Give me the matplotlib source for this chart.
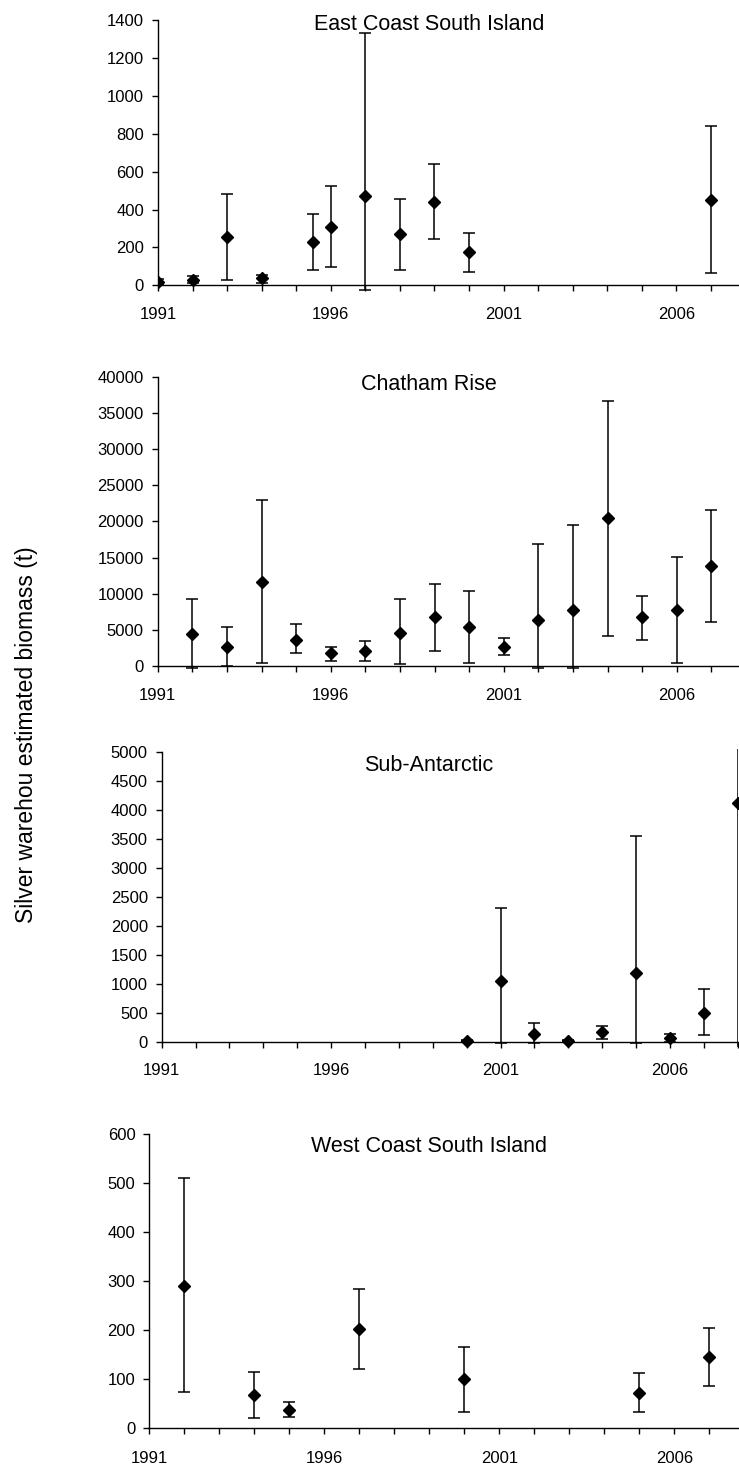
import matplotlib
matplotlib.use("Agg")
import matplotlib.pyplot as plt
import numpy as np

plt.rcParams['font.family'] = ['Liberation Sans', 'DejaVu Sans']

W, H = 739, 1466

# East Coast South Island
ecsi_year = [1991, 1992, 1993, 1994, 1995.5, 1996, 1997, 1998, 1999, 2000, 2007]
ecsi_est = [20, 30, 257, 37, 230, 310, 471, 271, 441, 174, 450]
ecsi_lo = [8, 12, 28, 14, 81, 95, -25, 81, 243, 72, 67]
ecsi_hi = [32, 48, 480, 53, 376, 524, 1329, 457, 640, 278, 839]

# Chatham Rise
cr_year = [1992, 1993, 1994, 1995, 1996, 1997, 1998, 1999, 2000,
           2001, 2002, 2003, 2004, 2005, 2006, 2007]
cr_est = [4424, 2673, 11567, 3594, 1751, 2120, 4608, 6728, 5438,
          2673, 6359, 7742, 20461, 6728, 7696, 13871]
cr_lo = [-323, 0, 369, 1751, 737, 737, 230, 2120, 369,
         1521, -250, -300, 4194, 3594, 369, 6129]
cr_hi = [9309, 5438, 22949, 5760, 2673, 3456, 9309, 11382, 10415,
         3917, 16820, 19539, 36682, 9677, 15069, 21613]

# Sub-Antarctic
sa_year = [2000, 2001, 2002, 2003, 2004, 2005, 2006, 2007, 2008]
sa_est = [17, 1048, 132, 17, 161, 1192, 58, 490, 4119]
sa_lo = [5, -20, -29, 5, 46, -20, 0, 115, -400]
sa_hi = [29, 2304, 317, 29, 276, 3560, 132, 904, 8200]

# West Coast South Island
wcsi_year = [1992, 1994, 1995, 1997, 2000, 2005, 2007]
wcsi_est = [291, 67, 37, 202, 100, 71, 146]
wcsi_lo = [75, 20, 24, 120, 33, 33, 87]
wcsi_hi = [510, 114, 54, 285, 166, 112, 205]

titles = ["East Coast South Island", "Chatham Rise", "Sub-Antarctic",
          "West Coast South Island"]
y_max = [1400, 40000, 5000, 600]
y_step = [200, 5000, 500, 100]
year_labels = [1991, 1996, 2001, 2006]

# panel geometry in pixels: left edge, y pixel of zero, y pixel of max tick,
# x pixel of 2008, lower y limit, upper y limit, title baseline
geom = [
    (158.0, 285.3, 20.0, 745.4, -40, 1400, 30.5),
    (157.7, 666.0, 376.7, 746.0, -700, 40000, 390.0),
    (161.7, 1041.7, 752.3, 737.7, -90, 5050, 771.0),
    (149.3, 1428.3, 1134.0, 744.3, -8, 600, 1152.5),
]
label_pad = [11, 11, 11, 12]

series = [
    (ecsi_year, ecsi_est, ecsi_lo, ecsi_hi),
    (cr_year, cr_est, cr_lo, cr_hi),
    (sa_year, sa_est, sa_lo, sa_hi),
    (wcsi_year, wcsi_est, wcsi_lo, wcsi_hi),
]

fig = plt.figure(figsize=(W / 100, H / 100), dpi=100)

for i in range(4):
    left, zero_px, top_px, x2008, ylo, yhi, title_base = geom[i]
    ppu = (zero_px - top_px) / y_max[i]
    bottom_px = zero_px - ylo * ppu
    axtop_px = zero_px - yhi * ppu
    ax = fig.add_axes([left / W, 1 - bottom_px / H,
                       (x2008 - left) / W, (bottom_px - axtop_px) / H])
    yrs, est, lo, hi = series[i]
    est = np.array(est, float)
    lo = np.array(lo, float)
    hi = np.array(hi, float)
    ax.errorbar(yrs, est, yerr=[est - lo, hi - est], fmt='D', color='black',
                ms=6.5, mec='black', mfc='black', ecolor='black',
                elinewidth=1.1, capsize=4.5, capthick=1.1, clip_on=True)
    ax.set_xlim(1991, 2008)
    ax.set_ylim(ylo, yhi)
    for s in ['top', 'right']:
        ax.spines[s].set_visible(False)
    ax.spines['bottom'].set_position(('data', 0))
    ax.spines['left'].set_bounds(0, y_max[i])
    for s in ['bottom', 'left']:
        ax.spines[s].set_linewidth(1.0)
        ax.spines[s].set_color('black')
    ax.set_yticks(np.arange(0, y_max[i] + 1, y_step[i]))
    ax.set_xticks(np.arange(1991, 2009))
    ax.set_xticklabels([str(y) if y in year_labels else '' for y in range(1991, 2009)])
    ax.tick_params(axis='both', direction='out', length=4.5, width=1.0,
                   labelsize=12, colors='black')
    ax.tick_params(axis='y', pad=5.5)
    ax.tick_params(axis='x', pad=label_pad[i])
    ax.patch.set_visible(False)
    fig.text(429 / W, 1 - title_base / H, titles[i], ha='center',
             va='baseline', fontsize=15.5)

fig.text(27 / W, 1 - 735 / H, "Silver warehou estimated biomass (t)",
         rotation=90, ha='center', va='center', fontsize=16.5)

fig.savefig("out.png", dpi=100, facecolor='white')
